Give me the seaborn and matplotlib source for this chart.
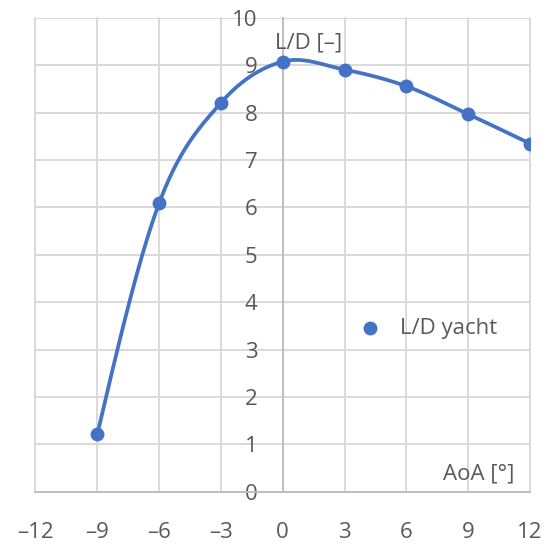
import numpy as np
import pandas as pd
import matplotlib
matplotlib.use("Agg")
import matplotlib.pyplot as plt
import seaborn as sns

# ---- data ----
aoa = [-9, -6, -3, 0, 3, 6, 9, 12]
ld_yacht = [1.21, 6.09, 8.21, 9.08, 8.91, 8.56, 7.97, 7.35]
xticks = [-12, -9, -6, -3, 0, 3, 6, 9, 12]
xtick_labels = ["–12", "–9", "–6", "–3", "0", "3", "6", "9", "12"]
yticks = [0, 1, 2, 3, 4, 5, 6, 7, 8, 9, 10]
ytick_labels = [str(v) for v in yticks]
series_name = "L/D yacht"
x_title = "AoA [°]"
y_title = "L/D [–]"

# ---- smooth curve (cubic Hermite / Bezier smoothing, natural ends) ----
def smooth(xs, ys, n=50):
    P = np.column_stack([xs, ys]).astype(float)
    m = len(P)
    T = np.zeros_like(P)
    for i in range(1, m - 1):
        T[i] = (P[i + 1] - P[i - 1]) / 2.0
    T[0] = (3 * (P[1] - P[0]) - T[1]) / 2.0
    T[-1] = (3 * (P[-1] - P[-2]) - T[-2]) / 2.0
    out = []
    for i in range(m - 1):
        p0, p1 = P[i], P[i + 1]
        c1 = p0 + T[i] / 3.0
        c2 = p1 - T[i + 1] / 3.0
        t = np.linspace(0, 1, n, endpoint=(i == m - 2))[:, None]
        seg = ((1 - t) ** 3) * p0 + 3 * ((1 - t) ** 2) * t * c1 + 3 * (1 - t) * t ** 2 * c2 + t ** 3 * p1
        out.append(seg)
    arr = np.vstack(out)
    return arr[:, 0], arr[:, 1]

sx, sy = smooth(aoa, ld_yacht)
df_pts = pd.DataFrame({"AoA": aoa, "LD": ld_yacht})
df_curve = pd.DataFrame({"AoA": sx, "LD": sy})

sns.set_style("white")
plt.rcParams["font.family"] = ["Open Sans", "DejaVu Sans"]

text_color = "#595959"
grid_color = "#d9d9d9"
axis_color = "#bfbfbf"
line_color = "#4472C4"
fs = 16

fig = plt.figure(figsize=(5.5, 5.46), dpi=100)
ax = fig.add_axes([0.0645, 0.0995, 0.9636 - 0.0645, 0.967 - 0.0995])

sns.lineplot(data=df_curve, x="AoA", y="LD", ax=ax, color=line_color, linewidth=2.7,
             sort=False, estimator=None, legend=False, zorder=3)
sns.scatterplot(data=df_pts, x="AoA", y="LD", ax=ax, color=line_color, s=100,
                edgecolor=line_color, linewidth=0, label=series_name, zorder=4)

ax.set_xlim(-12, 12)
ax.set_ylim(0, 10)
ax.set_xticks(xticks)
ax.set_xticklabels(xtick_labels)
ax.set_yticks(yticks)
ax.set_yticklabels(ytick_labels)
ax.set_xlabel("")
ax.set_ylabel("")

ax.grid(True, color=grid_color, linewidth=1.4)
ax.set_axisbelow(True)
for gl in ax.get_xgridlines() + ax.get_ygridlines():
    gl.set_clip_on(False)

for s in ["top", "right"]:
    ax.spines[s].set_visible(False)
ax.spines["left"].set_position(("data", 0))
ax.spines["left"].set_color(axis_color)
ax.spines["left"].set_linewidth(1.4)
ax.spines["bottom"].set_color(axis_color)
ax.spines["bottom"].set_linewidth(1.4)

ax.tick_params(axis="x", length=0, pad=22, labelsize=fs, labelcolor=text_color)
ax.tick_params(axis="y", length=0, pad=18, labelsize=fs, labelcolor=text_color)

ax.text(0.5516, 0.9467, y_title, transform=ax.transAxes, ha="center", va="center",
        fontsize=fs, color=text_color)
ax.text(0.897, 0.038, x_title, transform=ax.transAxes, ha="center", va="center",
        fontsize=fs, color=text_color)

leg = ax.legend(loc="center left", bbox_to_anchor=(0.654, 0.345), frameon=False,
                fontsize=fs, labelcolor=text_color, borderpad=0, borderaxespad=0,
                handlelength=1.0, handletextpad=0.85)

fig.savefig("out.png", dpi=100)
